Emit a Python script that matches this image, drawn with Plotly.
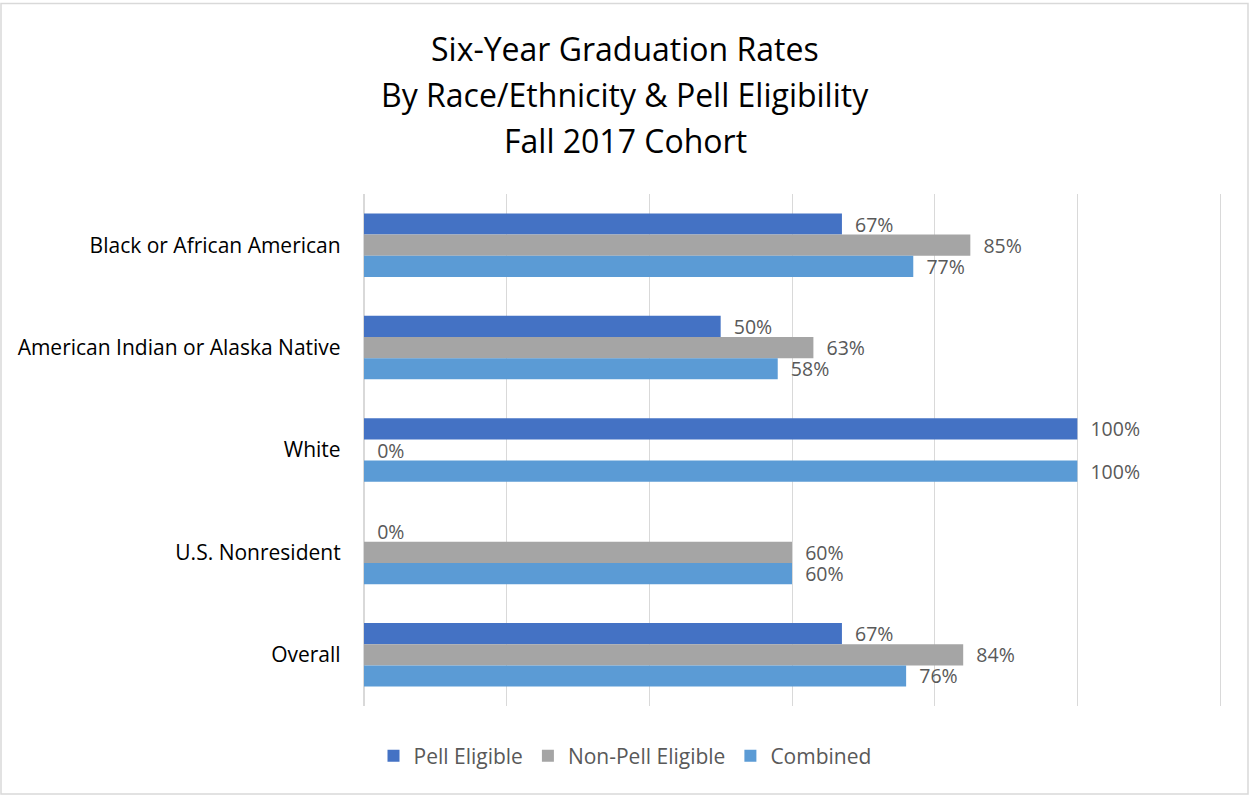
import plotly.graph_objects as go

categories = ["Black or African American", "American Indian or Alaska Native", "White", "U.S. Nonresident", "Overall"]
pell = [0.67, 0.50, 1.00, 0.0, 0.67]
non_pell = [0.85, 0.63, 0.0, 0.60, 0.84]
combined = [0.77, 0.58, 1.00, 0.60, 0.76]
series_names = ["Pell Eligible", "Non-Pell Eligible", "Combined"]
colors = ["#4472C4", "#A5A5A5", "#5B9BD5"]
title_lines = ["Six-Year Graduation Rates", "By Race/Ethnicity &amp; Pell Eligibility", "Fall 2017 Cohort"]

FONT = "Open Sans"
fig = go.Figure()
for name, vals, col in zip(series_names, [pell, non_pell, combined], colors):
    fig.add_trace(go.Bar(
        y=categories, x=vals, name=name, orientation="h",
        marker=dict(color=col, line=dict(width=0)),
        texttemplate="\u00a0\u00a0%{x:.0%}", textposition="outside",
        constraintext="none",
        textfont=dict(family=FONT, size=19.5, color="#595959"),
        cliponaxis=False,
    ))

W, H = 1249, 795
L, R, T, B = 364, 29, 194, 89
pw = W - L - R
ph = H - T - B

def px_to_py(py):
    return (H - B - py) / ph

annotations = []
for i, line in enumerate(title_lines):
    annotations.append(dict(
        text=line, xref="paper", yref="paper",
        x=(625 - L) / pw, y=px_to_py(48 + 46 * i),
        xanchor="center", yanchor="middle", showarrow=False,
        font=dict(family=FONT, size=32, color="#000000"),
    ))

fig.update_layout(
    width=W, height=H,
    margin=dict(l=L, r=R, t=T, b=B),
    paper_bgcolor="white", plot_bgcolor="white",
    barmode="group", bargap=0.38, bargroupgap=0,
    font=dict(family=FONT, size=20, color="#000000"),
    xaxis=dict(range=[0, 1.2], dtick=0.2, showticklabels=False, showgrid=True,
               gridcolor="#D9D9D9", gridwidth=1.3, zeroline=True, zerolinecolor="#D9D9D9",
               zerolinewidth=1.3, showline=False, fixedrange=True),
    yaxis=dict(autorange="reversed", showgrid=False, ticks="", ticklabelstandoff=18,
               showline=True, mirror=True, linecolor="#D9D9D9", linewidth=1.3,
               tickfont=dict(family=FONT, size=21, color="#000000"), fixedrange=True),
    legend=dict(orientation="h", xref="container", x=625 / W, xanchor="center",
                yref="container", y=1 - 756 / H, yanchor="middle",
                font=dict(family=FONT, size=21, color="#595959"),
                itemwidth=30, traceorder="normal"),
    annotations=annotations,
    shapes=[dict(type="rect", xref="paper", yref="paper",
                 x0=(1 - L) / pw, x1=(1248 - L) / pw,
                 y0=px_to_py(794), y1=px_to_py(3.5),
                 line=dict(color="#D9D9D9", width=1.5), fillcolor="rgba(0,0,0,0)", layer="below")],
)

fig.write_html("out.html", config={"displayModeBar": False})
with open("out.html", "r", encoding="utf-8") as f:
    html = f.read()
html = html.replace("<body>", '<body style="margin:0;padding:0;overflow:hidden">', 1)
with open("out.html", "w", encoding="utf-8") as f:
    f.write(html)
